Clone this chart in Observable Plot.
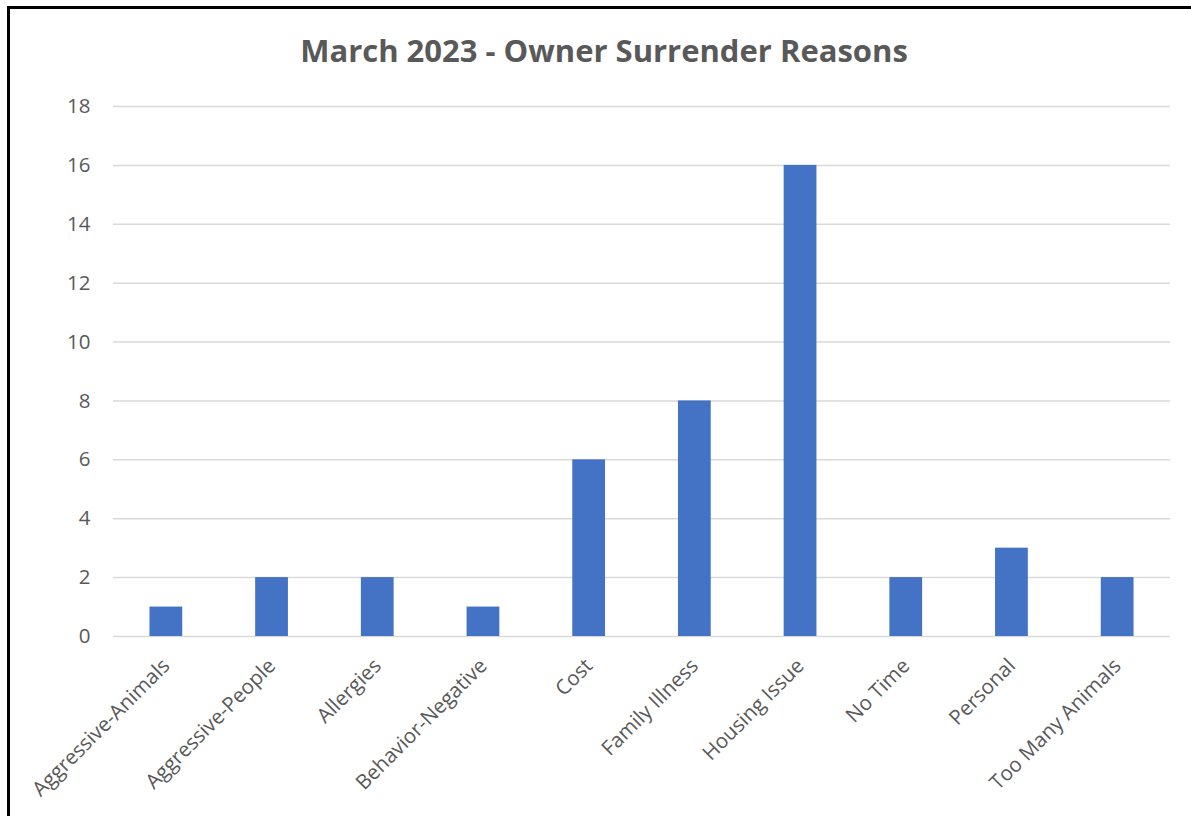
<!DOCTYPE html>
<html>
<head>
<meta charset="utf-8">
<script src="https://cdn.jsdelivr.net/npm/d3@7"></script>
<script src="https://cdn.jsdelivr.net/npm/@observablehq/plot@0.6"></script>
<style>
  html, body { margin: 0; padding: 0; background: #fff; width: 1191px; height: 816px; overflow: hidden; }
  #frame { position: absolute; left: 7px; top: 6px; width: 1184px; height: 810px; border-top: 3px solid #000; border-left: 3px solid #000; box-sizing: border-box; }
  #title { position: absolute; left: 0; top: 29px; width: 1208px; text-align: center; font-family: "Open Sans", sans-serif; font-weight: 700; font-size: 31px; color: #595959; }
  #chart { position: absolute; left: 0; top: 80px; }
  #chart svg text { font-size: 20.5px; fill: #595959; }
</style>
</head>
<body>
<div id="frame"></div>
<div id="title">March 2023 - Owner Surrender Reasons</div>
<div id="chart"></div>
<script>
const categories = ["Aggressive-Animals", "Aggressive-People", "Allergies", "Behavior-Negative", "Cost", "Family Illness", "Housing Issue", "No Time", "Personal", "Too Many Animals"];
const counts = [1, 2, 2, 1, 6, 8, 16, 2, 3, 2];
const yTicks = [0, 2, 4, 6, 8, 10, 12, 14, 16, 18];

const data = categories.map((c, i) => ({category: c, count: counts[i]}));

const chart = Plot.plot({
  width: 1191,
  height: 736,
  marginTop: 26,
  marginBottom: 180,
  marginLeft: 113,
  marginRight: 21,
  style: {fontFamily: "Open Sans, sans-serif", fontSize: "20.5px", color: "#595959", background: "transparent"},
  x: {domain: categories, paddingInner: 0.69, paddingOuter: 0.345, round: false, label: null, tickSize: 0, tickRotate: -45, tickPadding: 26},
  y: {domain: [0, 18], ticks: yTicks, label: null, tickSize: 0, tickPadding: 23, tickFormat: d => String(d)},
  marks: [
    Plot.gridY(yTicks, {stroke: "#d9d9d9", strokeOpacity: 1, strokeWidth: 1.5}),
    Plot.barY(data, {x: "category", y: "count", fill: "#4472c4"})
  ]
});
document.getElementById("chart").appendChild(chart);
</script>
</body>
</html>
